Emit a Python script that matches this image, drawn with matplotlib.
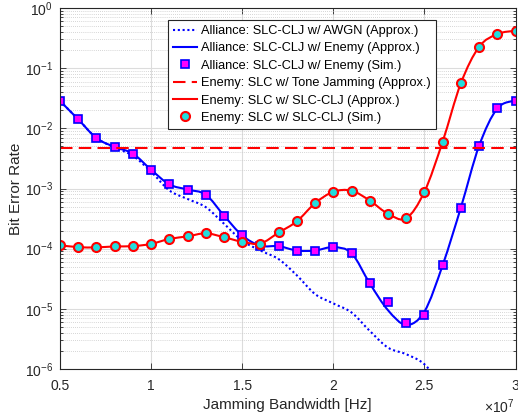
import numpy as np
import matplotlib
matplotlib.use("Agg")
import matplotlib.pyplot as plt
import matplotlib.ticker as ticker
from matplotlib.path import Path
from matplotlib.patches import PathPatch
from matplotlib.lines import Line2D

plt.rcParams["font.family"] = ["Liberation Sans", "DejaVu Sans"]
plt.rcParams["mathtext.fontset"] = "custom"
plt.rcParams["mathtext.rm"] = "Liberation Sans"
plt.rcParams["mathtext.it"] = "Liberation Sans:italic"
plt.rcParams["mathtext.bf"] = "Liberation Sans:bold"

# jamming bandwidth, in units of 1e7 Hz
bw = [0.5, 0.6, 0.7, 0.8, 0.9, 1.0, 1.1, 1.2, 1.3, 1.4, 1.5, 1.6, 1.7,
      1.8, 1.9, 2.0, 2.1, 2.2, 2.3, 2.4, 2.5, 2.6, 2.7, 2.8, 2.9, 3.0]

# Alliance: SLC-CLJ w/ AWGN (Approx.) -- runs off the bottom after 2.5
awgn_ber = [2.85e-2, 1.41e-2, 6.9e-3, 4.8e-3, 3.5e-3, 1.9e-3, 9.3e-4,
            6.7e-4, 4.9e-4, 2.6e-4, 1.36e-4, 9.3e-5, 6.7e-5, 3.6e-5,
            1.76e-5, 1.23e-5, 8.7e-6, 4.3e-6, 2.27e-6, 1.76e-6, 1.2e-6,
            5.0e-7]

# Alliance: SLC-CLJ w/ Enemy
ally_approx = [2.85e-2, 1.41e-2, 6.9e-3, 4.9e-3, 3.8e-3, 2.05e-3, 1.17e-3,
               9.6e-4, 7.9e-4, 3.55e-4, 1.66e-4, 1.12e-4, 1.1e-4, 9.3e-5,
               9.3e-5, 1.06e-4, 8.4e-5, 2.65e-5, 9.5e-6, 5.4e-6, 9.0e-6,
               5.3e-5, 4.8e-4, 5.1e-3, 2.14e-2, 2.9e-2]
ally_sim = [2.85e-2, 1.41e-2, 6.9e-3, 4.9e-3, 3.8e-3, 2.05e-3, 1.17e-3,
            9.6e-4, 7.9e-4, 3.55e-4, 1.66e-4, 1.1e-4, 1.1e-4, 9.3e-5,
            9.3e-5, 1.08e-4, 8.4e-5, 2.65e-5, 1.32e-5, 5.8e-6, 7.8e-6,
            5.3e-5, 4.8e-4, 5.1e-3, 2.14e-2, 2.9e-2]

# Enemy: SLC w/ Tone Jamming (Approx.)
tone_ber = 4.8e-3

# Enemy: SLC w/ SLC-CLJ
enemy_approx = [1.14e-4, 1.06e-4, 1.05e-4, 1.09e-4, 1.1e-4, 1.2e-4,
                1.45e-4, 1.6e-4, 1.8e-4, 1.55e-4, 1.3e-4, 1.22e-4, 1.85e-4,
                2.85e-4, 5.7e-4, 8.8e-4, 9.2e-4, 6.3e-4, 3.8e-4, 3.2e-4,
                8.8e-4, 6.0e-3, 5.6e-2, 0.226, 0.369, 0.42]
enemy_sim = [1.14e-4, 1.05e-4, 1.05e-4, 1.09e-4, 1.1e-4, 1.2e-4, 1.45e-4,
             1.6e-4, 1.83e-4, 1.55e-4, 1.29e-4, 1.2e-4, 1.87e-4, 2.85e-4,
             5.7e-4, 8.8e-4, 9.1e-4, 6.3e-4, 3.8e-4, 3.2e-4, 8.8e-4,
             6.0e-3, 5.6e-2, 0.226, 0.369, 0.42]

labels = [
    "Alliance: SLC-CLJ w/ AWGN (Approx.)",
    "Alliance: SLC-CLJ w/ Enemy (Approx.)",
    "Alliance: SLC-CLJ w/ Enemy (Sim.)",
    "Enemy: SLC w/ Tone Jamming (Approx.)",
    "Enemy: SLC w/ SLC-CLJ (Approx.)",
    "Enemy: SLC w/ SLC-CLJ (Sim.)",
]

BLUE = "#0000ff"
RED = "#ff0000"
MAGENTA = "#ff00ff"
CYAN = "#22dddd"
INK = "#262626"


def smooth_path(x, y):
    """Catmull-Rom through the points (log-y space) as a Bezier path"""
    lx = np.asarray(x, float)
    ly = np.log10(np.asarray(y, float))
    px = np.concatenate([[lx[0]], lx, [lx[-1]]])
    py = np.concatenate([[ly[0]], ly, [ly[-1]]])
    verts = [(lx[0], ly[0])]
    codes = [Path.MOVETO]
    for i in range(1, len(px) - 2):
        c1 = (px[i] + (px[i + 1] - px[i - 1]) / 6,
              py[i] + (py[i + 1] - py[i - 1]) / 6)
        c2 = (px[i + 1] - (px[i + 2] - px[i]) / 6,
              py[i + 1] - (py[i + 2] - py[i]) / 6)
        verts += [c1, c2, (px[i + 1], py[i + 1])]
        codes += [Path.CURVE4] * 3
    verts = np.array(verts)
    verts[:, 1] = 10 ** verts[:, 1]
    return Path(verts, codes)


fig = plt.figure(figsize=(5.18, 4.17), dpi=100)
ax = fig.add_axes([60 / 518, 48 / 417, 455.5 / 518, 361 / 417])
ax.set_yscale("log")

# grid
ax.grid(True, which="major", color="#dcdcdc", linewidth=0.8, linestyle="-")
ax.grid(True, which="minor", axis="y", color="#c8c8c8", linewidth=0.6,
        linestyle=(0, (1, 1.5)))
ax.set_axisbelow(True)

h = []
# AWGN approx (dotted)
ax.add_patch(PathPatch(smooth_path(bw[:len(awgn_ber)], awgn_ber), fill=False,
                       edgecolor=BLUE, linewidth=1.5, linestyle=(0, (1, 1.3))))
h.append(Line2D([], [], color=BLUE, lw=1.5, linestyle=(0, (1, 1.3))))

ax.add_patch(PathPatch(smooth_path(bw, ally_approx), fill=False,
                       edgecolor=BLUE, linewidth=1.5))
h.append(Line2D([], [], color=BLUE, lw=1.5))

h.append(ax.plot(bw, ally_sim, linestyle="none", marker="s", markersize=5.5,
                 markerfacecolor=MAGENTA, markeredgecolor=BLUE,
                 markeredgewidth=1.2)[0])

h.append(ax.axhline(tone_ber, color=RED, lw=1.5, linestyle=(0, (6, 3))))

ax.add_patch(PathPatch(smooth_path(bw, enemy_approx), fill=False,
                       edgecolor=RED, linewidth=1.5))
h.append(Line2D([], [], color=RED, lw=1.5))

h.append(ax.plot(bw, enemy_sim, linestyle="none", marker="o", markersize=6.5,
                 markerfacecolor=CYAN, markeredgecolor=RED,
                 markeredgewidth=1.5)[0])

ax.set_xlim(0.5, 3.0)
ax.set_ylim(1e-6, 1e0)
ax.set_xticks([0.5, 1, 1.5, 2, 2.5, 3])
ax.set_xticklabels(["0.5", "1", "1.5", "2", "2.5", "3"])
ax.yaxis.set_major_locator(ticker.LogLocator(base=10, numticks=10))
ax.yaxis.set_minor_locator(ticker.LogLocator(base=10, subs=np.arange(2, 10),
                                             numticks=20))
ax.yaxis.set_minor_formatter(ticker.NullFormatter())

ax.tick_params(which="both", direction="in", top=True, right=True,
               colors=INK, labelsize=10, width=0.6)
ax.tick_params(which="major", length=4)
ax.tick_params(which="minor", length=2)
ax.tick_params(axis="x", which="major", pad=7.5)
ax.tick_params(axis="y", which="major", pad=5)
for s in ax.spines.values():
    s.set_linewidth(0.8)
    s.set_color(INK)

ax.set_xlabel("Jamming Bandwidth [Hz]", fontsize=11, color=INK, labelpad=3)
ax.set_ylabel("Bit Error Rate", fontsize=11, color=INK, labelpad=1)
fig.text(515 / 518, 1 - 407 / 417, r"$\times10^{7}$", ha="right",
         va="center", fontsize=10, color=INK)

leg = ax.legend(h, labels, loc="upper left",
                bbox_to_anchor=(168 / 518, 1 - 20 / 417),
                bbox_transform=fig.transFigure, fontsize=9.2, frameon=True,
                fancybox=False, framealpha=1, edgecolor=INK,
                borderpad=0.4, labelspacing=0.42, handlelength=1.9,
                handletextpad=0.3, borderaxespad=0)
leg.get_frame().set_linewidth(0.8)

fig.savefig("out.png", dpi=100)
